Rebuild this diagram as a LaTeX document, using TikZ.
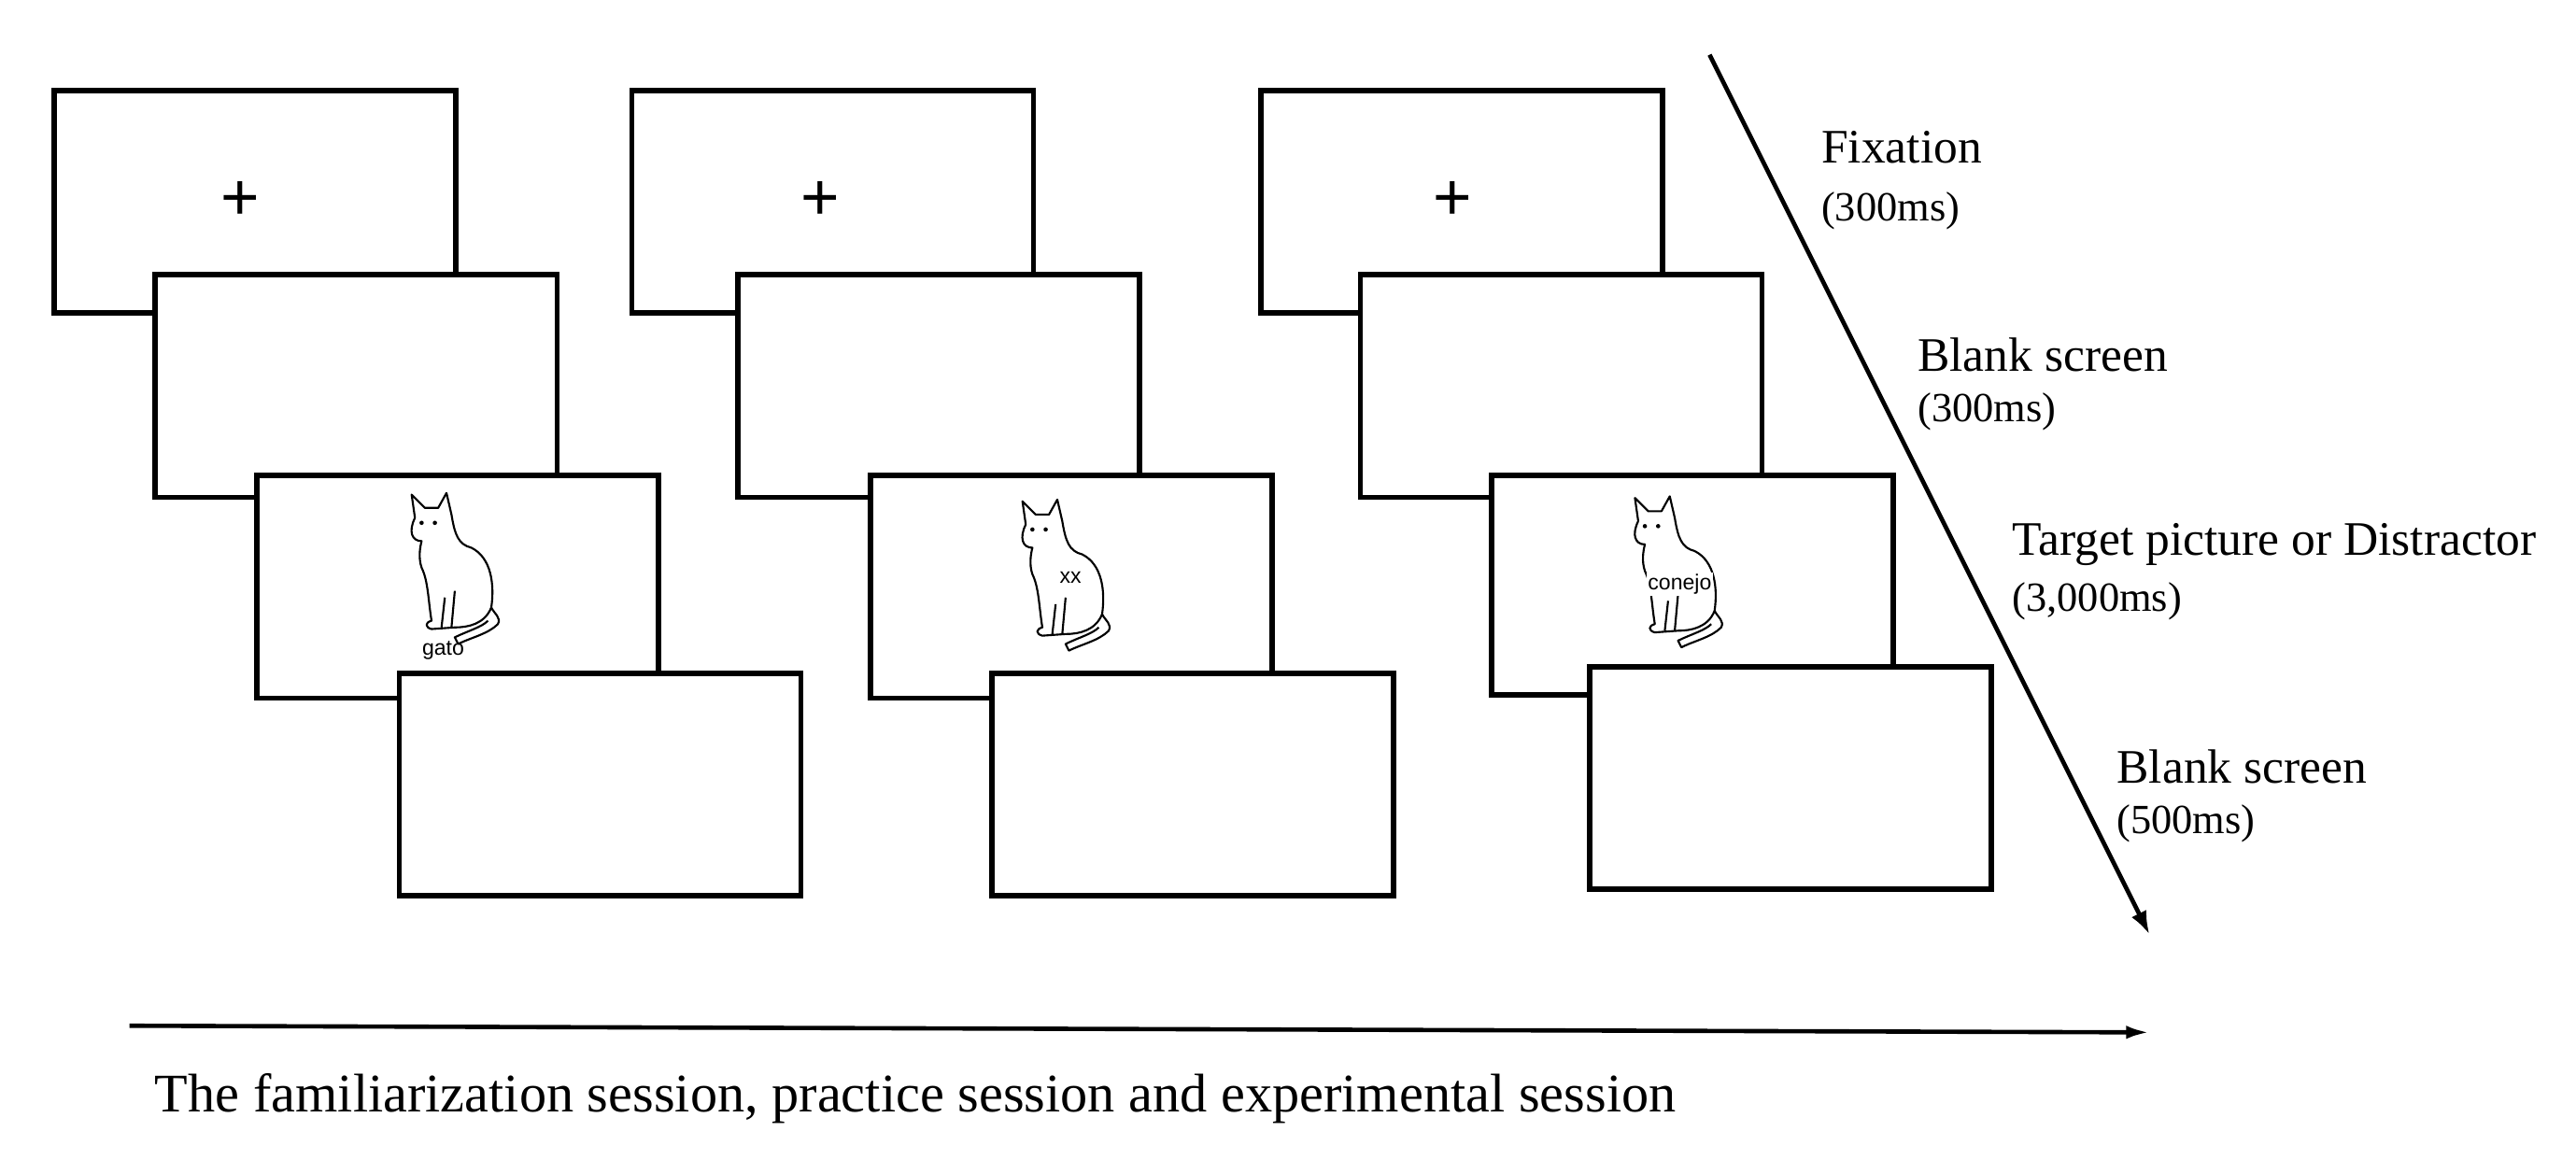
\documentclass[tikz,border=0pt]{standalone}
\usepackage{fontspec}
\usetikzlibrary{arrows.meta}
\setmainfont{Liberation Serif}
\newfontfamily\sansf{Liberation Sans}
\begin{document}
\begin{tikzpicture}[x=0.5pt,y=-0.5pt,
  scr/.style={draw=black,line width=1.6pt,fill=white,inner sep=0pt,minimum width=121pt,minimum height=67pt,anchor=north west},
  lbl/.style={anchor=west,inner sep=0pt,font=\fontsize{14.5}{16}\selectfont},
  sub/.style={anchor=west,inner sep=0pt,font=\fontsize{12.5}{14}\selectfont},
  cat/.pic={\draw[line width=0.6pt,line join=round]
     (-18,-30) -- (-20,-44) -- (-12,-36) -- (-4,-36) -- (1,-45) -- (4,-32)
     .. controls (6,-20) and (8,-14) .. (16,-12)
     .. controls (28,-6) and (30,10) .. (28,24)
     .. controls (30,28) and (34,30) .. (32,34)
     .. controls (26,40) and (16,42) .. (8,46) -- (6,42)
     .. controls (14,38) and (22,36) .. (26,32)
     (28,24) .. controls (24,34) and (14,36) .. (6,36) -- (-8,37)
     .. controls (-12,36) and (-12,33) .. (-8,32)
     .. controls (-10,20) and (-10,8) .. (-14,0)
     .. controls (-16,-6) and (-15,-12) .. (-14,-16)
     .. controls (-20,-16) and (-22,-22) .. (-18,-30);
     \draw[line width=0.6pt] (-2,36) -- (0,18) (4,36) -- (6,14);
     \fill (-14,-27) circle (1.3) (-6,-27) circle (1.3);}]
\useasboundingbox (0,0) rectangle (1552,698.4);
\fill[white] (0,0) rectangle (1552,698.4);
% column 1
\node[scr] (a1) at (31,53) {};
\node[font=\fontsize{20}{20}\selectfont\sansf] (p1) at (145,121) {+};
\node[scr] (a2) at (92,164) {};
\node[scr] (a3) at (153,285) {};
\pic at (268,342) {cat};
\node[font=\fontsize{6.5}{7}\selectfont\sansf] (w1) at (267,392) {gato};
\node[scr] (a4) at (239,404) {};
% column 2
\node[scr] (b1) at (379,53) {};
\node[font=\fontsize{20}{20}\selectfont\sansf] (p2) at (494,121) {+};
\node[scr] (b2) at (443,164) {};
\node[scr] (b3) at (523,285) {};
\pic at (636,346) {cat};
\node[font=\fontsize{6.5}{7}\selectfont\sansf,inner sep=0pt] (w2) at (645,348) {xx};
\node[scr] (b4) at (596,404) {};
% column 3
\node[scr] (c1) at (758,53) {};
\node[font=\fontsize{20}{20}\selectfont\sansf] (p3) at (875,121) {+};
\node[scr] (c2) at (818,164) {};
\node[scr,minimum height=66pt] (c3) at (897,285) {};
\pic at (1005,344) {cat};
\node[font=\fontsize{6.5}{7}\selectfont\sansf,fill=white,inner sep=0.5pt] (w3) at (1012,352) {conejo};
\node[scr] (c4) at (956,400) {};
% arrows
\coordinate (d0) at (1030,33); \coordinate (d1) at (1295,563);
\draw[line width=1.3pt,-{Latex[length=7pt,width=5pt]}] (d0) -- (d1);
\coordinate (h0) at (78,618); \coordinate (h1) at (1295,622);
\draw[line width=1.3pt,-{Latex[length=7pt,width=4pt]}] (h0) -- (h1);
% labels
\node[lbl] (t1) at (1097,89) {Fixation};
\node[sub] (t2) at (1097,127) {(300ms)};
\node[lbl] (t3) at (1155,214) {Blank screen};
\node[sub] (t4) at (1155,248) {(300ms)};
\node[lbl] (t5) at (1212,328) {Target picture or Distractor};
\node[sub] (t6) at (1212,362) {(3,000ms)};
\node[lbl] (t7) at (1275,462) {Blank screen};
\node[sub] (t8) at (1275,496) {(500ms)};
\node[lbl,font=\fontsize{16.4}{18}\selectfont] (bt) at (93,662) {The familiarization session, practice session and experimental session};
\end{tikzpicture}
\end{document}
